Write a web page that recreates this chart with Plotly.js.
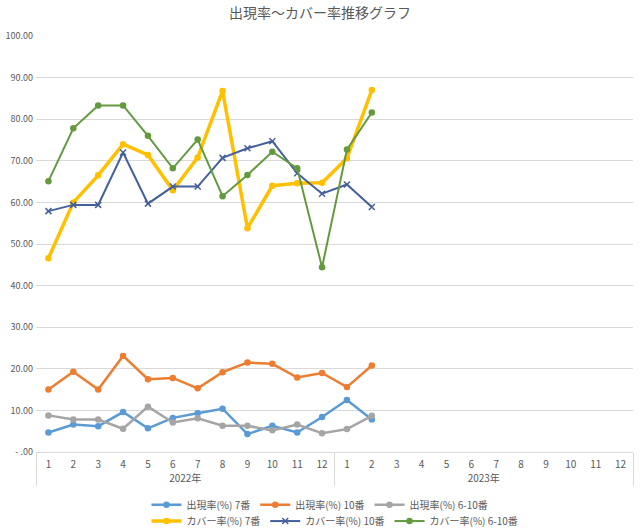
<!DOCTYPE html>
<html>
<head>
<meta charset="utf-8">
<script src="https://cdn.plot.ly/plotly-3.0.1.min.js"></script>
<style>
  html, body { margin: 0; padding: 0; background: #fff; }
  #chart { width: 640px; height: 532px; }
</style>
</head>
<body>
<div id="chart"></div>
<script>
// 年・月（2階層のカテゴリ軸）
const years = ['2022年', '2023年'];
const months = ['1', '2', '3', '4', '5', '6', '7', '8', '9', '10', '11', '12'];

// 系列データ（2022年1月〜2023年2月）
const appear7 = [4.7, 6.6, 6.2, 9.6, 5.7, 8.2, 9.3, 10.4, 4.3, 6.3, 4.7, 8.4, 12.5, 7.8];
const appear10 = [15.0, 19.3, 15.0, 23.1, 17.5, 17.8, 15.3, 19.2, 21.5, 21.2, 17.9, 19.0, 15.6, 20.8];
const appear6to10 = [8.8, 7.8, 7.8, 5.6, 10.9, 7.1, 8.1, 6.3, 6.3, 5.2, 6.6, 4.5, 5.5, 8.7];
const cover7 = [46.6, 60.0, 66.5, 74.0, 71.4, 62.9, 70.8, 86.8, 53.8, 64.0, 64.6, 64.7, 70.6, 87.0];
const cover10 = [57.9, 59.4, 59.4, 72.0, 59.7, 63.8, 63.8, 70.7, 73.0, 74.7, 67.0, 62.1, 64.3, 58.9];
const cover6to10 = [65.1, 77.8, 83.3, 83.3, 76.0, 68.2, 75.1, 61.5, 66.6, 72.2, 68.2, 44.4, 72.7, 81.6];

const yTicks = [0, 10, 20, 30, 40, 50, 60, 70, 80, 90, 100];

// 全24か月のカテゴリ
const allYears = [];
const allMonths = [];
years.forEach(y => months.forEach(m => { allYears.push(y); allMonths.push(m); }));

function xFor(n) {
    return [allYears.slice(0, n), allMonths.slice(0, n)];
}

function series(name, values, color, width, symbol, legend) {
    return {
        x: xFor(values.length),
        y: values,
        name: name,
        type: 'scatter',
        mode: 'lines+markers',
        line: { color: color, width: width },
        marker: symbol === 'x'
            ? { symbol: 'x-thin', size: 6, line: { color: color, width: 1.5 }, color: color }
            : { symbol: 'circle', size: 6.5, color: color },
        legend: legend
    };
}

var data = [
    // 軸に24か月すべてを出すためのダミー
    {
        x: xFor(24),
        y: allMonths.map(() => null),
        type: 'scatter',
        mode: 'lines',
        showlegend: false,
        hoverinfo: 'skip'
    },
    series('出現率(%) 7番', appear7, '#5b9bd5', 2.5, 'o', 'legend'),
    series('出現率(%) 10番', appear10, '#ed7d31', 2.5, 'o', 'legend'),
    series('出現率(%) 6-10番', appear6to10, '#a5a5a5', 2.5, 'o', 'legend'),
    series('カバー率(%) 7番', cover7, '#ffc000', 3.5, 'o', 'legend2'),
    series('カバー率(%) 10番', cover10, '#44609c', 2, 'x', 'legend2'),
    series('カバー率(%) 6-10番', cover6to10, '#639a3e', 2, 'o', 'legend2')
];

const legendBase = {
    orientation: 'h',
    xanchor: 'left',
    yanchor: 'middle',
    x: 0.185,
    font: { size: 10, color: '#595959' },
    itemwidth: 30,
    traceorder: 'normal',
    bgcolor: 'rgba(0,0,0,0)'
};

var layout = {
    width: 640,
    height: 532,
    margin: { l: 36, r: 7, t: 36, b: 80, autoexpand: false },
    paper_bgcolor: '#ffffff',
    plot_bgcolor: '#ffffff',
    font: { family: '"Noto Sans CJK JP", "Noto Sans", sans-serif', color: '#595959', size: 10 },
    title: {
        text: '出現率～カバー率推移グラフ',
        font: { size: 14, color: '#595959' },
        x: 0.5,
        xanchor: 'center',
        y: 0.975,
        yanchor: 'middle'
    },
    showlegend: true,
    legend: Object.assign({}, legendBase, { y: -0.127 }),
    legend2: Object.assign({}, legendBase, { y: -0.166 }),
    xaxis: {
        type: 'multicategory',
        automargin: false,
        range: [-0.5, 23.5],
        showline: true,
        linecolor: '#d9d9d9',
        linewidth: 1,
        showgrid: false,
        showdividers: true,
        dividercolor: '#d9d9d9',
        dividerwidth: 1,
        ticks: '',
        ticklabelstandoff: 3,
        tickfont: { size: 10, color: '#595959' },
        fixedrange: true
    },
    yaxis: {
        automargin: false,
        range: [0, 100],
        tickvals: yTicks,
        ticktext: yTicks.map(v => v === 0 ? '- .00' : v.toFixed(2)),
        showgrid: true,
        gridcolor: '#d9d9d9',
        gridwidth: 1,
        zeroline: false,
        showline: false,
        ticks: '',
        ticklabelstandoff: 2,
        tickfont: { size: 9, color: '#595959' },
        fixedrange: true
    }
};

Plotly.newPlot('chart', data, layout, { displayModeBar: false, staticPlot: true });
</script>
</body>
</html>
